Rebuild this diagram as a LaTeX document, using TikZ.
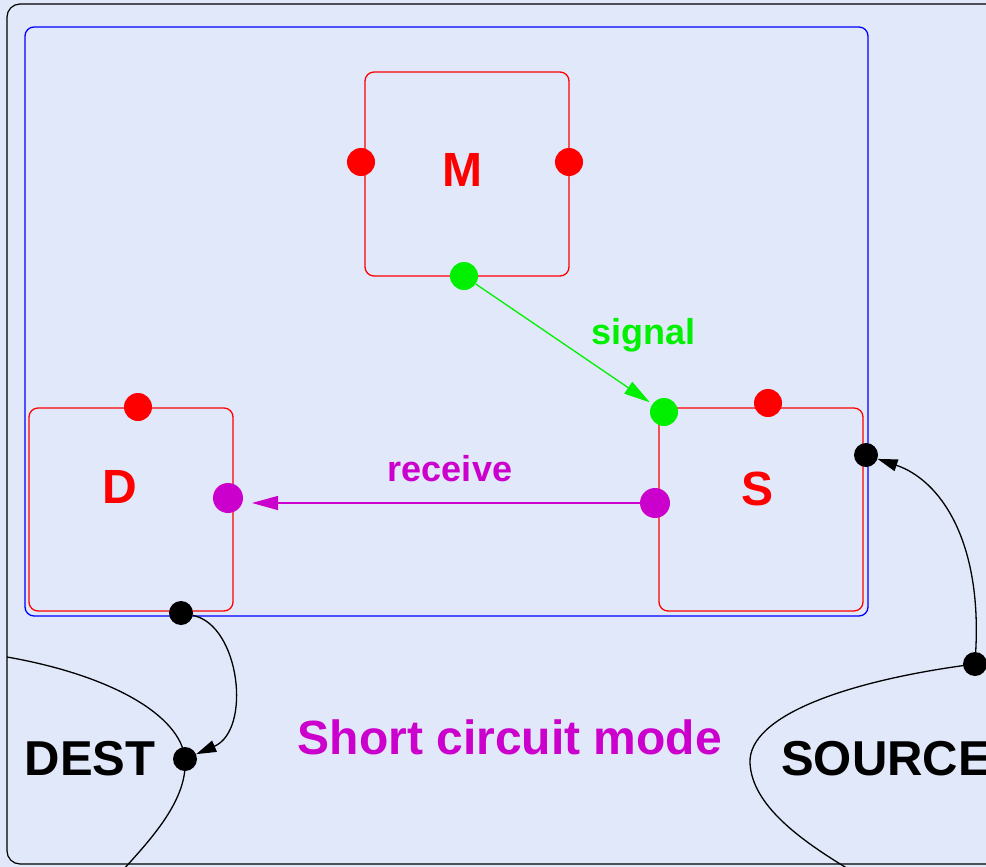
\documentclass[tikz,border=0pt]{standalone}
\usepackage{fontspec}
\setmainfont{Liberation Sans}
\usetikzlibrary{arrows.meta}
\definecolor{bgc}{RGB}{225,232,250}
\definecolor{mag}{RGB}{204,0,204}
\definecolor{grn}{RGB}{0,240,0}
\begin{document}
\begin{tikzpicture}[x=1pt,y=-1pt,
  box/.style={draw=red, line width=1.3pt, rounded corners=9pt, minimum width=204pt, minimum height=204pt, inner sep=0pt},
  port/.style={circle, inner sep=0pt, draw=none, minimum size=#1},
  big/.style={font=\bfseries\fontsize{48}{50}\selectfont, anchor=base, inner sep=0pt},
  mid/.style={font=\bfseries\fontsize{49}{52}\selectfont, anchor=base, inner sep=0pt},
  small/.style={font=\bfseries\fontsize{36}{40}\selectfont, anchor=base, inner sep=0pt},
  conn/.style={line width=1.3pt},
  bigtip/.style={-{Triangle[length=26pt,width=14pt]}},
  smalltip/.style={-{Triangle[length=20pt,width=12pt]}}]
\useasboundingbox (0,0) rectangle (986,867);
\fill[bgc] (0,0) rectangle (986,867);
% outer frame
\draw[line width=1.2pt, rounded corners=13pt] (7,4) rectangle (1012,864);
% blue system boundary
\draw[blue, line width=1.3pt, rounded corners=9pt] (25,27) rectangle (868,616);
% boxes
\node[box] (Mbox) at (467,174) {};
\node[box, minimum height=203pt] (Dbox) at (131,509.5) {};
\node[box, minimum height=203pt] (Sbox) at (761,509.5) {};
% ports
\node[port=28pt, fill=red] (Ml) at (361,162) {};
\node[port=28pt, fill=red] (Mr) at (569,162) {};
\node[port=28pt, fill=grn] (Mg) at (464,276) {};
\node[port=28pt, fill=red] (Dr) at (138,407) {};
\node[port=30pt, fill=mag] (Dm) at (228,498) {};
\node[port=24pt, fill=black] (Db) at (181,613) {};
\node[port=28pt, fill=grn] (Sg) at (664,412) {};
\node[port=28pt, fill=red] (Sr) at (768,403) {};
\node[port=30pt, fill=mag] (Sm) at (655,503) {};
\node[port=24pt, fill=black] (Sb) at (866,455) {};
\node[port=24pt, fill=black] (dest) at (185,759) {};
\node[port=24pt, fill=black] (src) at (975,664) {};
\coordinate (rtip) at (252,503);
% environment curves
\draw[conn] (7,657) .. controls (110,675) and (181,715) .. (dest.center)
  .. controls (188,800) and (150,840) .. (123,870);
\draw[conn] (src.center) .. controls (850,680) and (748,715) .. (750,763)
  .. controls (752,805) and (800,840) .. (850,870);
% connectors
\draw[conn, smalltip] (Db) .. controls (240,625) and (252,730) .. (dest);
\draw[conn, smalltip] (src) .. controls (982,540) and (940,480) .. (Sb);
\draw[conn, grn, bigtip, shorten >=3pt] (Mg) -- (Sg);
\draw[conn, mag, bigtip] (Sm.west |- rtip) -- (rtip);
% texts
\node[big, text=red] (tM) at (462,186) {M};
\node[big, text=red] (tD) at (119.5,503) {D};
\node[big, text=red] (tS) at (757.5,505) {S};
\node[small, text=grn] (tsig) at (643.5,344) {signal};
\node[small, text=mag] (trec) at (450,481) {receive};
\node[big, text=mag] (tmode) at (510,754) {Short circuit mode};
\node[mid] (tdest) at (90,775) {DEST};
\node[mid, anchor=base west] (tsrc) at (781,775) {SOURCE};
\end{tikzpicture}
\end{document}
